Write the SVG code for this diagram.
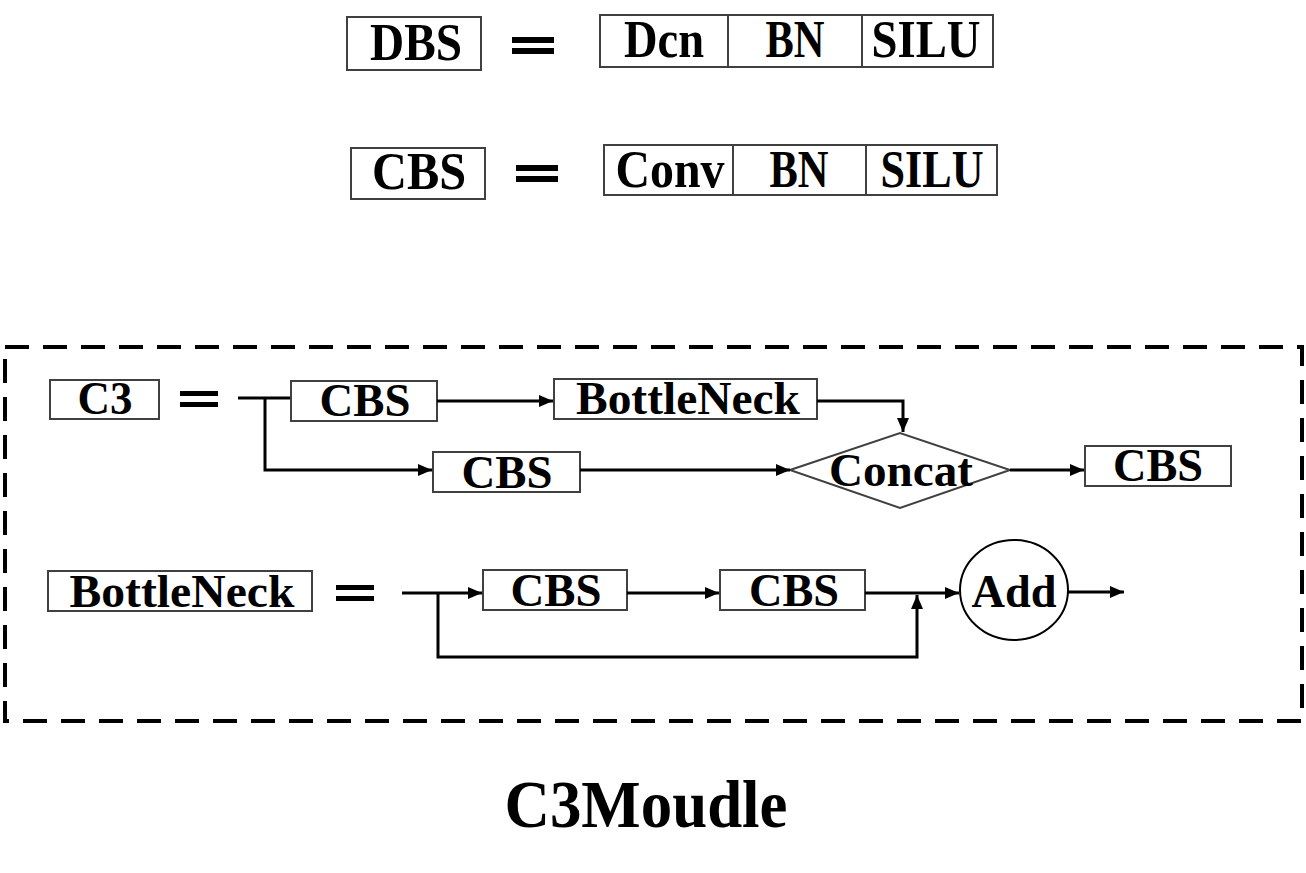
<svg xmlns="http://www.w3.org/2000/svg" width="1306" height="873" viewBox="0 0 1306 873">
<style>
.box{fill:#fff;stroke:#404040;stroke-width:2}
.t{font-family:"Liberation Serif","Times New Roman",serif;font-weight:bold;fill:#000;text-anchor:middle}
.big{font-size:52px}
.mid{font-size:47px}
.ttl{font-size:68px}
.c{fill:none;stroke:#000;stroke-width:3}
.eq{fill:#000}
</style>
<defs>
<marker id="ah" viewBox="0 0 14 12" refX="14" refY="6" markerWidth="14" markerHeight="12" markerUnits="userSpaceOnUse" orient="auto">
<path d="M0,0 L14,6 L0,12 Z" fill="#000"/>
</marker>
</defs>
<rect x="5" y="347" width="1297" height="374" fill="none" stroke="#000" stroke-width="4" stroke-dasharray="24,14"/>

<g id="dbs">
<rect class="box" x="347" y="17" width="134" height="53"/>
<text class="t big" x="416" y="60" textLength="92" lengthAdjust="spacingAndGlyphs">DBS</text>
</g>
<g id="eq1"><rect class="eq" x="512" y="37" width="42" height="6"/><rect class="eq" x="512" y="48" width="42" height="6"/></g>
<g id="dbs-row">
<rect class="box" x="600" y="15" width="128" height="52"/>
<rect class="box" x="728" y="15" width="134" height="52"/>
<rect class="box" x="862" y="15" width="131" height="52"/>
<text class="t big" x="664" y="57" textLength="80" lengthAdjust="spacingAndGlyphs">Dcn</text>
<text class="t big" x="795" y="57" textLength="59" lengthAdjust="spacingAndGlyphs">BN</text>
<text class="t big" x="926" y="57" textLength="109" lengthAdjust="spacingAndGlyphs">SILU</text>
</g>

<g id="cbs-def">
<rect class="box" x="351" y="148" width="134" height="51"/>
<text class="t big" x="419" y="189" textLength="94" lengthAdjust="spacingAndGlyphs">CBS</text>
</g>
<g id="eq2"><rect class="eq" x="516" y="165" width="42" height="6"/><rect class="eq" x="516" y="176" width="42" height="6"/></g>
<g id="cbs-row">
<rect class="box" x="604" y="145" width="129" height="50"/>
<rect class="box" x="733" y="145" width="133" height="50"/>
<rect class="box" x="866" y="145" width="131" height="50"/>
<text class="t big" x="670" y="187" textLength="109" lengthAdjust="spacingAndGlyphs">Conv</text>
<text class="t big" x="799" y="187" textLength="59" lengthAdjust="spacingAndGlyphs">BN</text>
<text class="t big" x="932" y="187" textLength="103" lengthAdjust="spacingAndGlyphs">SILU</text>
</g>

<g id="c3">
<rect class="box" x="50" y="380" width="109" height="39"/>
<text class="t mid" x="105" y="414" textLength="55" lengthAdjust="spacingAndGlyphs">C3</text>
</g>
<g id="eq3"><rect class="eq" x="180" y="391" width="38" height="5"/><rect class="eq" x="180" y="402" width="38" height="5"/></g>
<g id="cbs1">
<rect class="box" x="291" y="381" width="146" height="40"/>
<text class="t mid" x="365" y="416" textLength="91" lengthAdjust="spacingAndGlyphs">CBS</text>
</g>
<g id="bottleneck1">
<rect class="box" x="554" y="379" width="263" height="40"/>
<text class="t mid" x="688" y="414" textLength="224" lengthAdjust="spacingAndGlyphs">BottleNeck</text>
</g>
<g id="cbs2">
<rect class="box" x="433" y="452" width="147" height="40"/>
<text class="t mid" x="507" y="488" textLength="91" lengthAdjust="spacingAndGlyphs">CBS</text>
</g>
<g id="concat">
<polygon points="790,470 900,433 1010,470 900,508" fill="#fff" stroke="#404040" stroke-width="2"/>
<text class="t mid" x="901" y="486" textLength="144" lengthAdjust="spacingAndGlyphs">Concat</text>
</g>
<g id="cbs3">
<rect class="box" x="1085" y="446" width="146" height="40"/>
<text class="t mid" x="1158" y="481" textLength="90" lengthAdjust="spacingAndGlyphs">CBS</text>
</g>

<g id="bottleneck2">
<rect class="box" x="48" y="571" width="264" height="40"/>
<text class="t mid" x="182" y="607" textLength="225" lengthAdjust="spacingAndGlyphs">BottleNeck</text>
</g>
<g id="eq4"><rect class="eq" x="336" y="585" width="38" height="5"/><rect class="eq" x="336" y="596" width="38" height="5"/></g>
<g id="cbs4">
<rect class="box" x="483" y="570" width="144" height="40"/>
<text class="t mid" x="556" y="606" textLength="91" lengthAdjust="spacingAndGlyphs">CBS</text>
</g>
<g id="cbs5">
<rect class="box" x="720" y="570" width="145" height="40"/>
<text class="t mid" x="794" y="606" textLength="90" lengthAdjust="spacingAndGlyphs">CBS</text>
</g>
<g id="add">
<ellipse cx="1014" cy="590" rx="54" ry="50" fill="#fff" stroke="#000" stroke-width="2"/>
<text class="t mid" x="1014" y="607" textLength="85" lengthAdjust="spacingAndGlyphs">Add</text>
</g>

<g id="connectors">
<path class="c" d="M238,398 H290"/>
<path class="c" d="M265,398 V470 H432" marker-end="url(#ah)"/>
<path class="c" d="M437,401 H553" marker-end="url(#ah)"/>
<path class="c" d="M817,401 H903 V432" marker-end="url(#ah)"/>
<path class="c" d="M580,470 H790" marker-end="url(#ah)"/>
<path class="c" d="M1010,470 H1084" marker-end="url(#ah)"/>
<path class="c" d="M402,593 H482" marker-end="url(#ah)"/>
<path class="c" d="M438,593 V657 H917 V595" marker-end="url(#ah)"/>
<path class="c" d="M627,593 H719" marker-end="url(#ah)"/>
<path class="c" d="M865,593 H959" marker-end="url(#ah)"/>
<path class="c" d="M1068,592 H1124" marker-end="url(#ah)"/>
</g>

<text class="t ttl" x="646" y="827" textLength="283" lengthAdjust="spacingAndGlyphs">C3Moudle</text>
</svg>
